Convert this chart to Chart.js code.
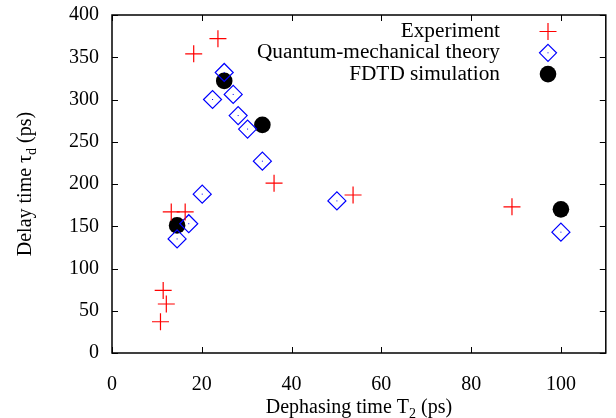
<!DOCTYPE html>
<html lang="en">
  <head>
    <meta charset="UTF-8" />
    <title>Delay time vs dephasing time</title>
    <script src="https://cdn.jsdelivr.net/npm/chart.js"></script>
    <style>
      html, body { margin: 0; padding: 0; background: #fff; }
      .grafico { width: 616px; height: 418px; }
    </style>
  </head>
  <body>
    <div class="grafico">
      <canvas id="myCanvas" width="616" height="418"></canvas>
    </div>
  </body>
</html>
<script>
  // valores
  const expX = [10.8, 12.1, 11.4, 13.2, 16.3, 18.2, 23.6, 36.1, 53.7, 89.1];
  const expY = [37, 58, 74, 167, 167, 354, 372, 201, 187, 173];
  const qmX = [14.5, 17.1, 20.1, 22.4, 25.0, 27.0, 28.1, 30.2, 33.5, 50.1, 100];
  const qmY = [135, 153, 188, 300, 332, 306, 281, 265, 227, 180, 143];
  const fdX = [14.5, 25.0, 33.5, 100];
  const fdY = [151, 322, 270, 170];
  const xTicks = [0, 20, 40, 60, 80, 100];
  const yTicks = [0, 50, 100, 150, 200, 250, 300, 350, 400];

  const serif = '"Liberation Serif", "DejaVu Serif", serif';

  function pares(xs, ys) {
    return xs.map((x, i) => ({ x: x, y: ys[i] }));
  }

  // moldura com ticks para dentro (estilo gnuplot)
  const moldura = {
    id: "moldura",
    afterDraw(chart) {
      const ctx = chart.ctx;
      const a = chart.chartArea;
      const sx = chart.scales.x;
      const sy = chart.scales.y;
      ctx.save();
      ctx.strokeStyle = "#000";
      ctx.lineWidth = 1;
      ctx.beginPath();
      xTicks.forEach((v) => {
        const px = Math.round(sx.getPixelForValue(v)) + 0.5;
        ctx.moveTo(px, a.bottom);
        ctx.lineTo(px, a.bottom - 6);
        ctx.moveTo(px, a.top);
        ctx.lineTo(px, a.top + 6);
      });
      yTicks.forEach((v) => {
        const py = Math.round(sy.getPixelForValue(v)) + 0.5;
        ctx.moveTo(a.left, py);
        ctx.lineTo(a.left + 6, py);
        ctx.moveTo(a.right, py);
        ctx.lineTo(a.right - 6, py);
      });
      ctx.stroke();
      ctx.lineWidth = 1.5;
      ctx.strokeRect(a.left, a.top, a.right - a.left, a.bottom - a.top);

      // titulos dos eixos com subscrito
      ctx.fillStyle = "#000";
      ctx.textBaseline = "alphabetic";
      function textoSub(partes, cx, cy) {
        let w = 0;
        partes.forEach((p) => {
          ctx.font = (p.sub ? "14px " : "20px ") + serif;
          w += ctx.measureText(p.t).width;
        });
        let x = cx - w / 2;
        partes.forEach((p) => {
          ctx.font = (p.sub ? "14px " : "20px ") + serif;
          ctx.fillText(p.t, x, cy + (p.sub ? 5 : 0));
          x += ctx.measureText(p.t).width;
        });
      }
      textoSub(
        [{ t: "Dephasing time T" }, { t: "2", sub: true }, { t: " (ps)" }],
        (a.left + a.right) / 2,
        413
      );
      ctx.save();
      ctx.translate(31, (a.top + a.bottom) / 2);
      ctx.rotate(-Math.PI / 2);
      textoSub(
        [{ t: "Delay time \u03c4" }, { t: "d", sub: true }, { t: " (ps)" }],
        0,
        0
      );
      ctx.restore();

      // legenda no canto superior direito
      const nomes = ["Experiment", "Quantum-mechanical theory", "FDTD simulation"];
      ctx.font = "21.3px " + serif;
      ctx.textAlign = "right";
      ctx.textBaseline = "middle";
      nomes.forEach((n, i) => {
        const y = 31.5 + i * 21.3;
        ctx.fillStyle = "#000";
        ctx.fillText(n, 500, y);
        const mx = 548;
        if (i === 0) {
          ctx.strokeStyle = "#ff0000";
          ctx.lineWidth = 1.2;
          ctx.beginPath();
          ctx.moveTo(mx - 8.5, y);
          ctx.lineTo(mx + 8.5, y);
          ctx.moveTo(mx, y - 8.5);
          ctx.lineTo(mx, y + 8.5);
          ctx.stroke();
        } else if (i === 1) {
          ctx.strokeStyle = "#0000ff";
          ctx.lineWidth = 1.2;
          ctx.beginPath();
          ctx.moveTo(mx, y - 8.5);
          ctx.lineTo(mx + 8.5, y);
          ctx.lineTo(mx, y + 8.5);
          ctx.lineTo(mx - 8.5, y);
          ctx.closePath();
          ctx.stroke();
          ctx.fillStyle = "#0000ff";
          ctx.fillRect(mx - 0.5, y - 0.5, 1, 1);
        } else {
          ctx.fillStyle = "#000";
          ctx.beginPath();
          ctx.arc(mx, y, 8.3, 0, Math.PI * 2);
          ctx.fill();
        }
      });
      ctx.restore();
    },
    afterDatasetsDraw(chart) {
      // ponto central dos losangos
      const ctx = chart.ctx;
      const meta = chart.getDatasetMeta(1);
      ctx.save();
      ctx.fillStyle = "#0000ff";
      meta.data.forEach((p) => {
        ctx.fillRect(p.x - 0.5, p.y - 0.5, 1, 1);
      });
      ctx.restore();
    },
  };

  const config = {
    type: "scatter",
    data: {
      datasets: [
        {
          label: "Experiment",
          data: pares(expX, expY),
          pointStyle: "cross",
          pointRadius: 8.5,
          pointHoverRadius: 8.5,
          borderColor: "#ff0000",
          backgroundColor: "#ff0000",
          borderWidth: 1.2,
        },
        {
          label: "Quantum-mechanical theory",
          data: pares(qmX, qmY),
          pointStyle: "rectRot",
          pointRadius: 9,
          pointHoverRadius: 9,
          borderColor: "#0000ff",
          backgroundColor: "rgba(0,0,0,0)",
          borderWidth: 1.2,
        },
        {
          label: "FDTD simulation",
          data: pares(fdX, fdY),
          pointStyle: "circle",
          pointRadius: 8.3,
          pointHoverRadius: 8.3,
          borderColor: "#000",
          backgroundColor: "#000",
          borderWidth: 0,
        },
      ],
    },
    options: {
      responsive: false,
      animation: false,
      layout: { padding: { top: 15, right: 8, left: 0, bottom: 0 } },
      plugins: {
        legend: { display: false },
        tooltip: { enabled: false },
      },
      scales: {
        x: {
          type: "linear",
          min: 0,
          max: 110,
          afterBuildTicks: (s) => {
            s.ticks = xTicks.map((v) => ({ value: v }));
          },
          afterFit: (s) => {
            s.height = 65;
            s.paddingLeft = 0;
            s.paddingRight = 0;
          },
          grid: { display: false, drawTicks: false },
          border: { display: false },
          ticks: {
            padding: 20,
            color: "#000",
            font: { family: serif, size: 20 },
          },
        },
        y: {
          type: "linear",
          min: 0,
          max: 400,
          afterBuildTicks: (s) => {
            s.ticks = yTicks.map((v) => ({ value: v }));
          },
          afterFit: (s) => {
            s.width = 112;
            s.paddingTop = 0;
            s.paddingBottom = 0;
          },
          grid: { display: false, drawTicks: false },
          border: { display: false },
          ticks: {
            padding: 13,
            color: "#000",
            font: { family: serif, size: 20 },
          },
        },
      },
    },
    plugins: [moldura],
  };

  const myChart = new Chart(document.getElementById("myCanvas"), config);
</script>
